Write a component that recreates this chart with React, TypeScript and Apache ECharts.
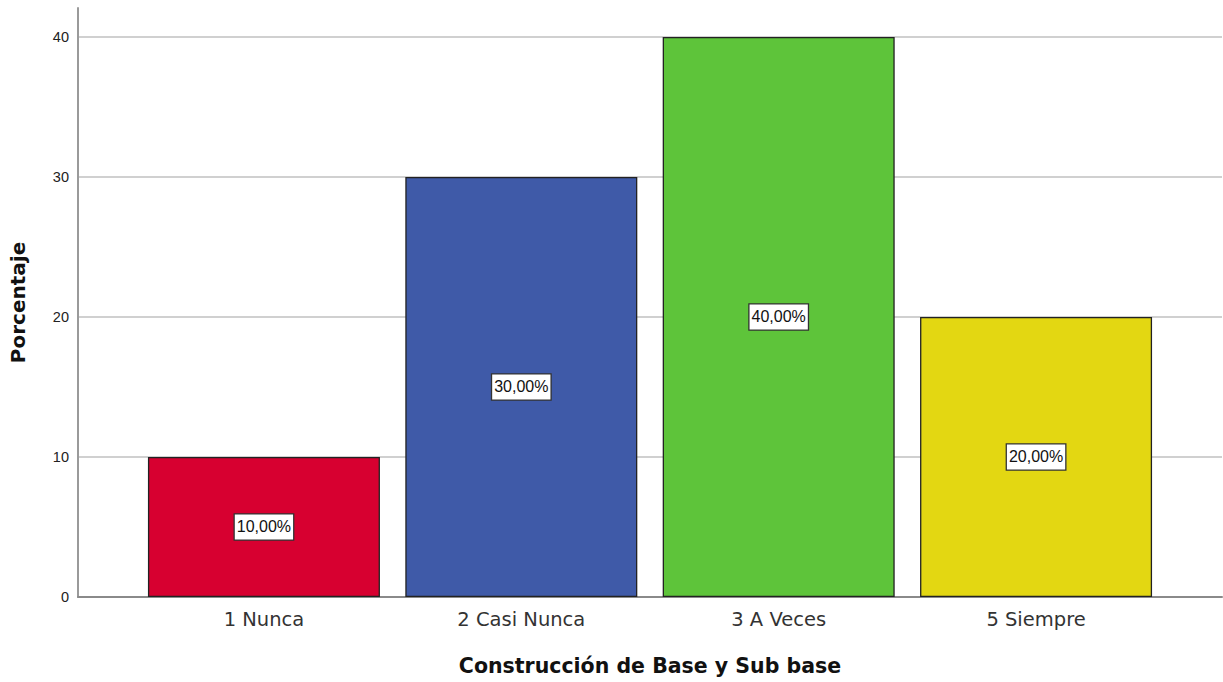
import React, { useEffect, useRef } from "react";
import * as echarts from "echarts";

const categories = ["1 Nunca", "2 Casi Nunca", "3 A Veces", "5 Siempre"];
const percentages = [10, 30, 40, 20];
const barColors = ["#D70030", "#3F5AA8", "#5EC43A", "#E3D712"];
const yTicks = [0, 10, 20, 30, 40];

const yMax = 42.07;
const font = "'DejaVu Sans', Arial, sans-serif";
const arial = "'Liberation Sans', Arial, sans-serif";

export default function App() {
  const ref = useRef<HTMLDivElement>(null);

  useEffect(() => {
    if (!ref.current) return;
    const chart = echarts.init(ref.current, undefined, { renderer: "svg" });
    chart.setOption({
      animation: false,
      backgroundColor: "#ffffff",
      textStyle: { fontFamily: font },
      grid: [
        { left: 78, right: 1, top: 8, bottom: 85, outerBoundsMode: "none", containLabel: false },
        { left: 135.25, right: 58.25, top: 8, bottom: 85, outerBoundsMode: "none", containLabel: false },
      ],
      xAxis: [
        {
          gridIndex: 0,
          type: "value",
          min: 0,
          max: 1,
          name: "Construcción de Base y Sub base",
          nameLocation: "middle",
          nameGap: 58,
          nameTextStyle: { fontSize: 20.5, fontWeight: "bold", color: "#111", fontFamily: font },
          axisLine: { show: true, onZero: false, lineStyle: { color: "#8a8a8a", width: 2 } },
          axisTick: { show: false },
          axisLabel: { show: false },
          splitLine: { show: false },
        },
        {
          gridIndex: 1,
          type: "category",
          data: categories,
          boundaryGap: true,
          axisLine: { show: false },
          axisTick: { show: false },
          axisLabel: { fontSize: 19.5, color: "#333", margin: 12, fontFamily: font },
        },
      ],
      yAxis: [
        {
          gridIndex: 0,
          type: "value",
          min: 0,
          max: yMax,
          interval: 10,
          name: "Porcentaje",
          nameLocation: "middle",
          nameGap: 50,
          nameTextStyle: { fontSize: 20, fontWeight: "bold", color: "#111", fontFamily: font },
          axisLine: { show: true, lineStyle: { color: "#9a9a9a", width: 2 } },
          axisTick: { show: false },
          axisLabel: {
            showMaxLabel: false,
            fontSize: 14.5,
            color: "#222",
            margin: 9,
            fontFamily: arial,
            formatter: (v: number) => (yTicks.includes(v) ? String(v) : ""),
          },
          splitLine: {
            show: true,
            showMaxLine: false,
            showMinLine: false,
            lineStyle: { color: "#d0d0d0", width: 2 },
          },
        },
        {
          gridIndex: 1,
          type: "value",
          min: 0,
          max: yMax,
          show: false,
          splitLine: { show: false },
        },
      ],
      series: [
        {
          type: "bar",
          xAxisIndex: 1,
          yAxisIndex: 1,
          barWidth: 232,
          data: percentages.map((v, i) => ({
            value: v,
            itemStyle: { color: barColors[i] },
          })),
          itemStyle: { borderColor: "#222", borderWidth: 1.3 },
          label: {
            show: true,
            position: "inside",
            formatter: (p: any) => `${p.value.toFixed(2).replace(".", ",")}%`,
            fontSize: 16,
            color: "#111",
            fontFamily: arial,
            backgroundColor: "#ffffff",
            borderColor: "#333",
            borderWidth: 1.3,
            padding: [5, 2, 4, 2],
          },
        },
      ],
    });
    return () => chart.dispose();
  }, []);

  return (
    <div
      ref={ref}
      style={{ position: "fixed", left: 0, top: 0, width: 1223, height: 682 }}
    />
  );
}
